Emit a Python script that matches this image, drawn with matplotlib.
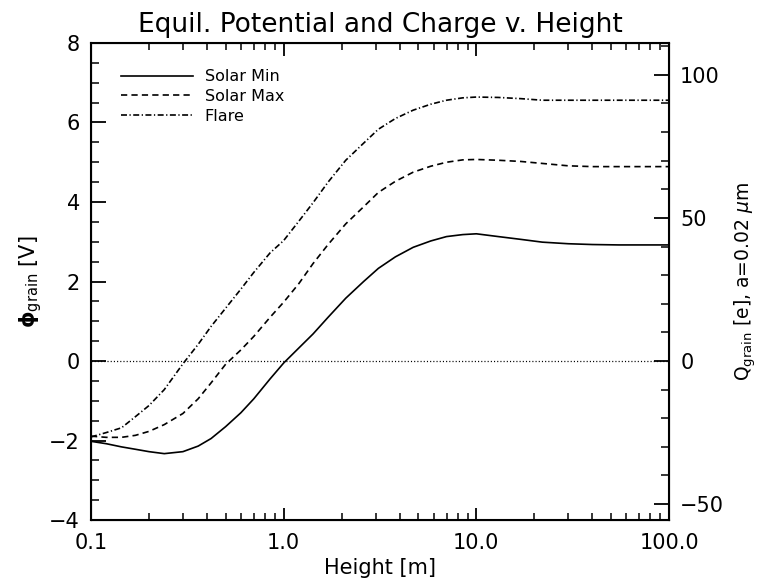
import matplotlib
matplotlib.use("Agg")
import matplotlib.pyplot as plt
from matplotlib.ticker import FixedLocator, MultipleLocator, FixedFormatter, NullFormatter, LogLocator

plt.rcParams['font.family'] = ['DejaVu Sans']
plt.rcParams['mathtext.fontset'] = 'dejavusans'
plt.rcParams['lines.scale_dashes'] = False

# heights [m]
height = [0.1, 0.12, 0.144, 0.17, 0.2, 0.24, 0.3, 0.36, 0.42, 0.5, 0.6, 0.7, 0.85,
          1.0, 1.2, 1.42, 1.7, 2.1, 2.6, 3.1, 3.8, 4.7, 5.8, 7.0, 8.5,
          10, 13, 17, 22, 30, 40, 55, 75, 100]

# grain potential [V]
phi_min = [-2.02, -2.08, -2.16, -2.22, -2.28, -2.33, -2.28, -2.14, -1.95, -1.65, -1.30, -0.95, -0.45,
           -0.05, 0.33, 0.68, 1.10, 1.58, 2.00, 2.33, 2.62, 2.86, 3.02, 3.13, 3.18,
           3.20, 3.13, 3.06, 2.99, 2.95, 2.93, 2.92, 2.92, 2.92]
phi_max = [-1.89, -1.92, -1.92, -1.87, -1.77, -1.60, -1.32, -0.95, -0.55, -0.08, 0.28, 0.62, 1.10,
           1.48, 1.95, 2.45, 2.93, 3.45, 3.88, 4.24, 4.52, 4.75, 4.90, 5.00, 5.06,
           5.07, 5.05, 5.02, 4.97, 4.91, 4.89, 4.89, 4.89, 4.89]
phi_flare = [-1.91, -1.80, -1.68, -1.40, -1.12, -0.72, -0.07, 0.42, 0.87, 1.33, 1.81, 2.23, 2.72,
             3.03, 3.52, 3.98, 4.50, 5.05, 5.48, 5.83, 6.10, 6.31, 6.46, 6.56, 6.62,
             6.64, 6.63, 6.60, 6.56, 6.56, 6.56, 6.56, 6.56, 6.56]

# Q = 4 pi eps0 a phi / e, a = 0.02 um
q_per_volt = 13.89

fig = plt.figure(figsize=(7.57, 5.88), dpi=100)
ax = fig.add_axes([0.1202, 0.1156, 0.7636, 0.8113])

lw = 1.2
ax.plot(height, phi_min, color='black', lw=lw, label='Solar Min')
ax.plot(height, phi_max, color='black', lw=lw, linestyle=(0, (4.5, 3.0)), label='Solar Max')
ax.plot(height, phi_flare, color='black', lw=lw, linestyle=(0, (4.3, 1.8, 0.9, 1.8)), label='Flare')
ax.axhline(0, color='black', lw=0.9, linestyle=(0, (0.8, 1.5)))

ax.set_xscale('log')
ax.set_xlim(0.1, 100)
ax.set_ylim(-4, 8)

ax.xaxis.set_major_locator(FixedLocator([0.1, 1, 10, 100]))
ax.xaxis.set_major_formatter(FixedFormatter(['0.1', '1.0', '10.0', '100.0']))
ax.xaxis.set_minor_locator(LogLocator(base=10, subs=range(2, 10)))
ax.xaxis.set_minor_formatter(NullFormatter())
ax.yaxis.set_major_locator(MultipleLocator(2))
ax.yaxis.set_minor_locator(MultipleLocator(0.5))

ax.tick_params(axis='x', which='both', direction='in', top=True, bottom=True, labelsize=15, pad=9)
ax.tick_params(axis='x', which='major', length=9, width=1.3)
ax.tick_params(axis='x', which='minor', length=5, width=1.1)
ax.tick_params(axis='y', which='both', direction='in', left=True, right=False, labelsize=15, pad=8)
ax.tick_params(axis='y', which='major', length=11, width=1.3)
ax.tick_params(axis='y', which='minor', length=6, width=1.1)
for s in ax.spines.values():
    s.set_linewidth(1.5)

ax2 = ax.twinx()
ax2.set_ylim(-4 * q_per_volt, 8 * q_per_volt)
ax2.yaxis.set_major_locator(MultipleLocator(50))
ax2.yaxis.set_minor_locator(MultipleLocator(10))
ax2.tick_params(axis='y', which='both', direction='in', labelsize=15, pad=8)
ax2.tick_params(axis='y', which='major', length=11, width=1.3)
ax2.tick_params(axis='y', which='minor', length=6, width=1.1)

ax.set_title('Equil. Potential and Charge v. Height', fontsize=19, pad=8)
ax.set_xlabel('Height [m]', fontsize=15, labelpad=4)
ax.set_ylabel(r'$\mathbf{\phi}_{\mathrm{grain}}$ [V]', fontsize=15, labelpad=4)
ax2.set_ylabel(r'Q$_{\mathrm{grain}}$ [e], a=0.02 $\mathit{\mu}$m', fontsize=13.5, labelpad=6)

leg = ax.legend(loc='upper left', bbox_to_anchor=(0.027, 0.975), frameon=False, fontsize=11.5,
                handlelength=4.5, handletextpad=0.75, labelspacing=0.3)

fig.savefig('out.png', dpi=100)
